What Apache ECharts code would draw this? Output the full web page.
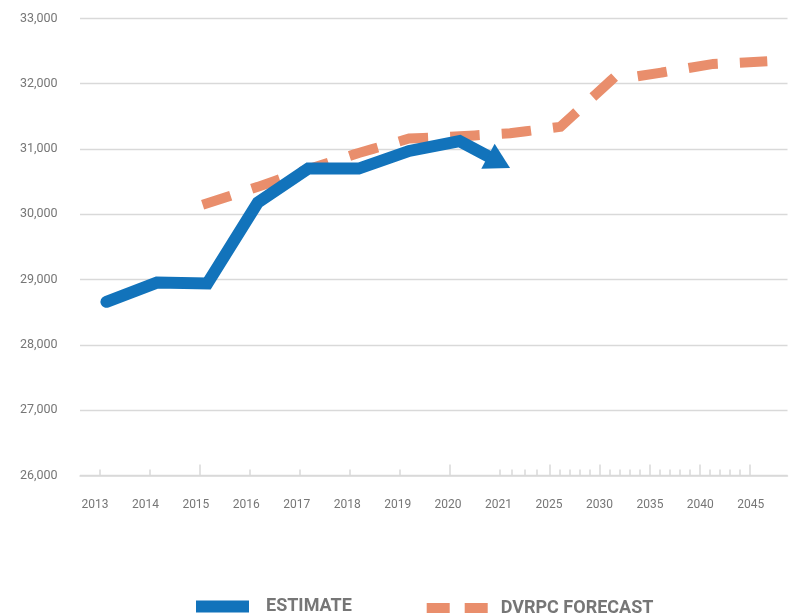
<!DOCTYPE html>
<html>
<head>
<meta charset="utf-8">
<script src="https://cdn.jsdelivr.net/npm/echarts@6/dist/echarts.min.js"></script>
<style>
  html, body { margin: 0; padding: 0; background: #ffffff; }
  #chart { width: 793px; height: 615px; }
</style>
</head>
<body>
<div id="chart"></div>
<script>
// Category labels along the x axis (one slot per label)
const years = ['2013', '2014', '2015', '2016', '2017', '2018', '2019', '2020', '2021',
               '2025', '2030', '2035', '2040', '2045'];
// Population estimate, 2013–2021
const estimate = [28660, 28955, 28940, 30180, 30700, 30700, 30970, 31120, 30710];
// DVRPC forecast, 2015–2045 (no values for 2013–2014)
const forecast = [null, null, 30170, 30420, 30690, 30940, 31160, 31195, 31240,
                  31340, 32050, 32170, 32300, 32340];
// Value axis range
const yMin = 26000, yMax = 33000, yStep = 1000;

const BLUE = '#1273bb';
const ORANGE = '#e98e6c';
const GRID = '#d9d9d9';
const TEXT = '#767676';
const FONT = 'Roboto, "Liberation Sans", sans-serif';

// Axis label/tick placement in slot units
const LABEL_SHIFT = -0.228;
const TICK_ORIGIN = -0.139, TICK_STEP = 0.991;
function yearSlot(y) {
  if (y <= 2021) return y - 2013;
  if (y <= 2025) return 8 + (y - 2021) / 4;
  return 9 + (y - 2025) / 5;
}
const tallTicks = [], shortTicks = [];
for (let y = 2013; y <= 2045; y++) {
  const v = TICK_ORIGIN + TICK_STEP * yearSlot(y);
  (y % 5 === 0 ? tallTicks : shortTicks).push(v);
}
const labelValues = years.map((_, i) => i + LABEL_SHIFT);

const estimateData = estimate.map((v, i) => [i, v]);
const forecastData = [];
forecast.forEach((v, i) => { if (v != null) forecastData.push([i, v]); });

const X_MIN = -0.525, X_MAX = 13.5;

const chart = echarts.init(document.getElementById('chart'), null, { renderer: 'canvas' });

chart.setOption({
  animation: false,
  backgroundColor: '#ffffff',
  grid: { left: 80, right: 5.5, top: 18.4, bottom: 139.5, containLabel: false },
  xAxis: [
    {
      type: 'value', min: X_MIN, max: X_MAX, position: 'bottom',
      axisLine: { show: true, lineStyle: { color: GRID, width: 1.5 } },
      axisTick: { show: true, inside: true, length: 11, customValues: tallTicks,
                  lineStyle: { color: GRID, width: 1.5 } },
      axisLabel: {
        show: true, customValues: labelValues, margin: 23,
        color: TEXT, fontFamily: FONT, fontSize: 12,
        formatter: v => years[Math.round(v - LABEL_SHIFT)] || ''
      },
      splitLine: { show: false }
    },
    {
      type: 'value', min: X_MIN, max: X_MAX, position: 'bottom', offset: 0,
      axisLine: { show: false },
      axisTick: { show: true, inside: true, length: 6, customValues: shortTicks,
                  lineStyle: { color: GRID, width: 1.5 } },
      axisLabel: { show: false },
      splitLine: { show: false }
    }
  ],
  yAxis: {
    type: 'value', min: yMin, max: yMax, interval: yStep,
    axisLine: { show: false },
    axisTick: { show: false },
    axisLabel: {
      margin: 22.5, color: TEXT, fontFamily: FONT, fontSize: 12.5,
      padding: [0, 0, 3, 0],
      formatter: v => v.toLocaleString('en-US')
    },
    splitLine: { show: true, lineStyle: { color: GRID, width: 1.3 } }
  },
  legend: [
    {
      left: 196, top: 597.5, padding: 0, itemWidth: 53, itemHeight: 12,
      icon: 'rect', selectedMode: false,
      data: [{ name: 'ESTIMATE', icon: 'rect' }],
      itemStyle: { borderWidth: 0 },
      textStyle: { color: TEXT, fontFamily: FONT, fontSize: 18, fontWeight: 'bold',
                   padding: [0, 0, 5, 12] }
    },
    {
      left: 426.7, top: 599, padding: 0, itemWidth: 61, itemHeight: 10, selectedMode: false,
      data: [{ name: 'DVRPC FORECAST', icon: 'path://M0,0H23V10H0Z M38,0H61V10H38Z' }],
      itemStyle: { borderWidth: 0 },
      textStyle: { color: TEXT, fontFamily: FONT, fontSize: 18, fontWeight: 'bold',
                   padding: [0, 0, 5, 8] }
    }
  ],
  series: [
    {
      name: 'DVRPC FORECAST',
      type: 'line',
      xAxisIndex: 0,
      data: forecastData,
      symbol: 'none',
      z: 2,
      silent: true,
      itemStyle: { color: ORANGE },
      lineStyle: { color: ORANGE, width: 10, type: [19.5, 32.1], cap: 'square', join: 'miter' },
      emphasis: { disabled: true }
    },
    {
      name: 'ESTIMATE',
      type: 'custom',
      xAxisIndex: 0,
      data: estimateData,
      encode: { x: 0, y: 1 },
      z: 3,
      silent: true,
      clip: false,
      itemStyle: { color: BLUE },
      // Whole polyline drawn once, ending in an arrowhead whose tip sits on the last value
      renderItem(params, api) {
        if (params.dataIndex !== estimate.length - 1) return null;
        const pts = estimate.map((v, i) => api.coord([i, v]));
        const tip = pts[pts.length - 1];
        const prev = pts[pts.length - 2];
        const dx = tip[0] - prev[0], dy = tip[1] - prev[1];
        const len = Math.hypot(dx, dy);
        const ux = dx / len, uy = dy / len;
        const HEAD_LEN = 25, HEAD_HALF = 14.2;
        const bx = tip[0] - ux * HEAD_LEN, by = tip[1] - uy * HEAD_LEN;
        const body = pts.slice(0, -1).concat([[tip[0] - ux * (HEAD_LEN - 2), tip[1] - uy * (HEAD_LEN - 2)]]);
        return {
          type: 'group',
          children: [
            {
              type: 'polyline',
              shape: { points: body },
              style: { stroke: BLUE, lineWidth: 12, lineCap: 'round', lineJoin: 'miter', fill: 'none' }
            },
            {
              type: 'polygon',
              shape: { points: [tip,
                                [bx - uy * HEAD_HALF, by + ux * HEAD_HALF],
                                [bx + uy * HEAD_HALF, by - ux * HEAD_HALF]] },
              style: { fill: BLUE }
            }
          ]
        };
      }
    }
  ]
});
</script>
</body>
</html>
